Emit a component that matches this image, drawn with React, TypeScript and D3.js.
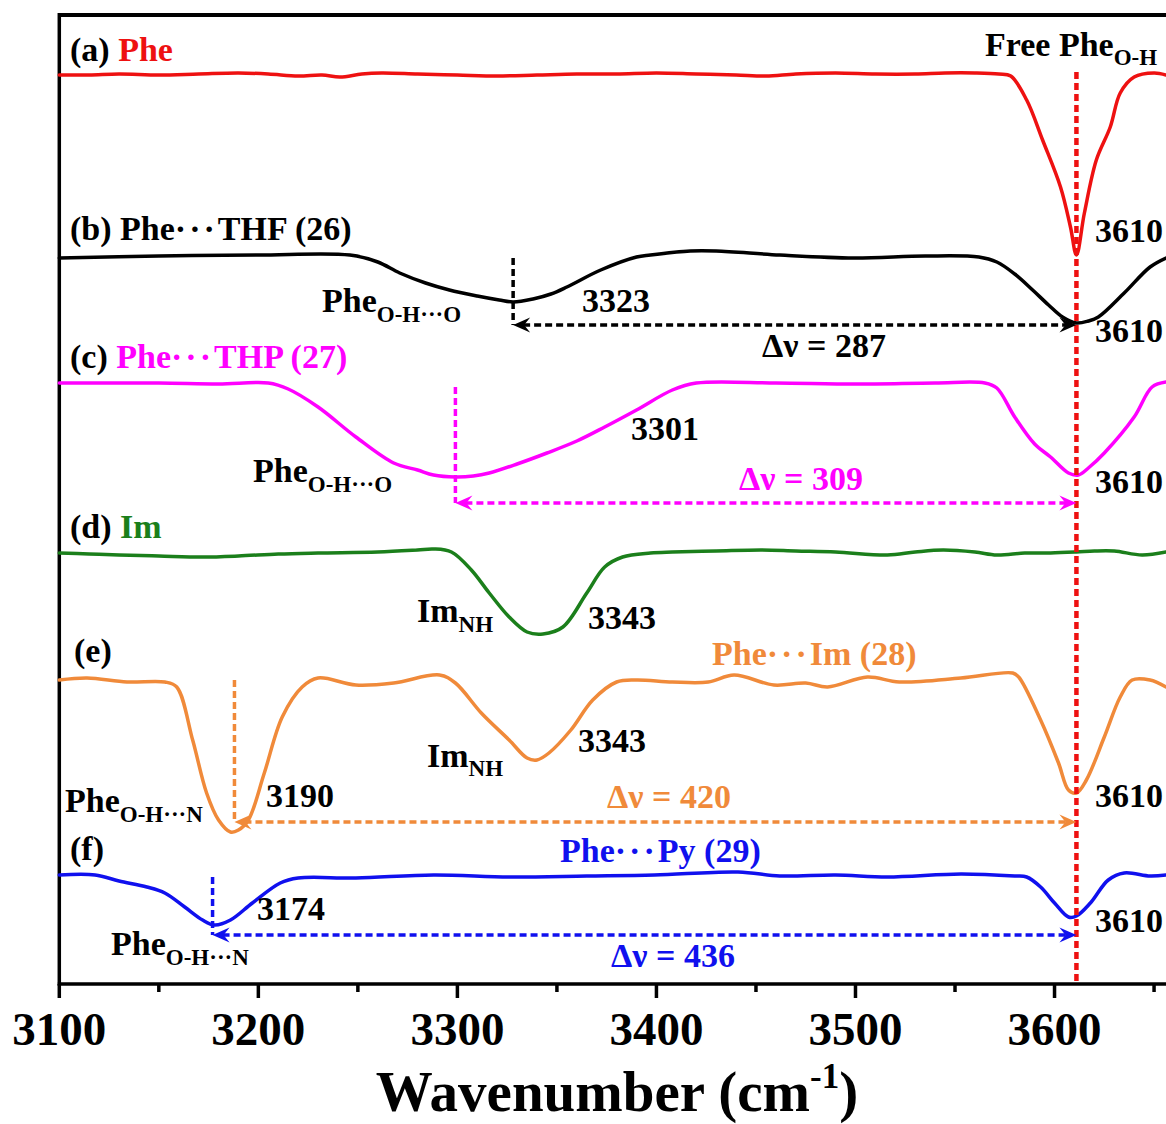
import React from 'react';
import * as d3 from 'd3';

const W = 1166;
const H = 1124;

// [wavenumber cm-1, stacked intensity]
const phe: [number, number][] = [
  [3100, 90.9], [3115, 90.9], [3130, 91.0], [3150, 90.9], [3170, 91.0], [3190, 91.1], [3205, 91.0],
  [3220, 90.8], [3232, 90.9], [3241, 90.7], [3252, 91.0], [3262, 91.1], [3280, 91.0], [3300, 90.9],
  [3320, 90.8], [3340, 90.9], [3360, 91.0], [3380, 91.0], [3400, 91.1], [3420, 91.0], [3440, 90.9],
  [3455, 90.8], [3470, 91.0], [3490, 91.1], [3510, 91.0], [3530, 91.0], [3545, 91.1], [3560, 91.1],
  [3572, 91.0], [3578, 90.8], [3586, 88.4], [3594, 84.4], [3603, 79.7], [3608, 75.7], [3611, 72.9],
  [3615, 77.1], [3621, 82.4], [3628, 85.7], [3633, 89.1], [3640, 90.7], [3650, 91.1], [3656, 90.9],
];
const pheThf: [number, number][] = [
  [3100, 72.6], [3150, 72.8], [3200, 72.9], [3246, 72.9], [3260, 72.2], [3271, 71.1], [3284, 70.1],
  [3296, 69.4], [3310, 68.8], [3321, 68.4], [3328, 68.2], [3338, 68.5], [3347, 69.0], [3355, 69.7],
  [3372, 71.4], [3390, 72.7], [3397, 72.9], [3417, 73.3], [3430, 73.3], [3462, 72.9], [3499, 72.6],
  [3535, 72.8], [3562, 72.7], [3571, 72.2], [3580, 71.0], [3589, 69.4], [3597, 67.9], [3604, 66.7],
  [3611, 66.1], [3617, 66.3], [3622, 66.7], [3635, 69.1], [3648, 71.7], [3656, 72.6],
];
const pheThp: [number, number][] = [
  [3100, 60.1], [3150, 60.1], [3180, 60.0], [3205, 60.1], [3215, 59.5], [3230, 57.7], [3249, 54.7],
  [3268, 52.1], [3280, 51.4], [3288, 50.9], [3299, 50.7], [3308, 50.8], [3316, 51.1], [3330, 52.0],
  [3345, 53.1], [3360, 54.3], [3374, 55.7], [3390, 57.4], [3408, 59.4], [3420, 60.1], [3460, 60.1],
  [3500, 60.0], [3540, 60.1], [3565, 60.1], [3571, 59.6], [3580, 56.7], [3590, 54.0], [3598, 52.7],
  [3607, 51.1], [3612, 50.9], [3617, 51.6], [3625, 53.1], [3640, 56.7], [3649, 59.7], [3656, 60.2],
];
const im: [number, number][] = [
  [3100, 43.1], [3115, 43.0], [3130, 42.9], [3150, 42.8], [3172, 42.7], [3190, 42.8], [3210, 43.0],
  [3230, 43.1], [3260, 43.2], [3280, 43.4], [3288, 43.5], [3297, 43.2], [3307, 41.4], [3316, 39.1],
  [3326, 36.7], [3335, 35.2], [3343, 35.0], [3353, 35.7], [3365, 39.1], [3374, 41.7], [3383, 42.7],
  [3397, 43.1], [3408, 43.2], [3430, 43.3], [3453, 43.4], [3470, 43.3], [3490, 43.2], [3516, 42.9],
  [3530, 43.2], [3544, 43.4], [3560, 43.2], [3571, 42.9], [3585, 43.1], [3598, 43.1], [3611, 43.2],
  [3620, 43.3], [3630, 43.3], [3644, 42.9], [3656, 43.2],
];
const pheIm: [number, number][] = [
  [3100, 30.4], [3114, 30.6], [3134, 30.2], [3153, 30.2], [3159, 29.7], [3167, 24.4], [3174, 19.1],
  [3180, 16.4], [3186, 15.2], [3190, 15.4], [3195, 16.4], [3203, 21.1], [3212, 26.7], [3222, 29.7],
  [3230, 30.6], [3249, 29.9], [3268, 30.1], [3291, 30.9], [3299, 30.1], [3312, 27.1], [3326, 24.4],
  [3335, 22.6], [3340, 22.4], [3346, 23.1], [3357, 25.4], [3368, 28.4], [3380, 30.2], [3390, 30.4],
  [3408, 30.2], [3426, 30.2], [3439, 30.9], [3459, 29.9], [3475, 30.1], [3486, 29.7], [3506, 30.7],
  [3522, 30.2], [3553, 30.6], [3579, 31.1], [3582, 30.7], [3593, 26.4], [3602, 22.1], [3607, 19.4],
  [3611, 19.1], [3616, 20.4], [3625, 24.7], [3633, 28.7], [3639, 30.4], [3648, 30.4], [3656, 29.7],
];
const phePy: [number, number][] = [
  [3100, 10.9], [3118, 10.9], [3130, 10.3], [3144, 9.7], [3153, 9.1], [3163, 7.7], [3172, 6.4],
  [3178, 5.9], [3186, 6.4], [3197, 8.1], [3211, 10.1], [3220, 10.6], [3249, 10.6], [3288, 10.9],
  [3326, 10.7], [3365, 10.8], [3399, 10.9], [3441, 11.2], [3462, 10.8], [3490, 10.9], [3516, 10.7],
  [3553, 11.0], [3580, 10.8], [3586, 10.7], [3593, 9.7], [3600, 8.1], [3607, 6.7], [3611, 6.8],
  [3618, 8.1], [3627, 10.4], [3635, 11.1], [3648, 10.8], [3656, 10.9],
];

const xTicks = [3100, 3200, 3300, 3400, 3500, 3600];
const xMinorTicks = [3150, 3250, 3350, 3450, 3550, 3650];
const freeOH = 3611;

// bonded O-H band: position, top of drop line, level of the shift arrow
const bondedBand = [3328, 3299, 3188, 3177];
const bandTop = [72.6, 59.7, 30.4, 10.7];
const arrowLevel = [65.9, 48.1, 16.2, 4.9];

const RED = '#ee1111';
const MAG = '#ff00ff';
const GRN = '#1b7f1b';
const ORG = '#f08a3a';
const BLU = '#1010ee';

const series = [
  { data: phe, color: RED },
  { data: pheThf, color: '#000' },
  { data: pheThp, color: MAG },
  { data: im, color: GRN },
  { data: pheIm, color: ORG },
  { data: phePy, color: BLU },
];
const shiftColors = ['#000', MAG, ORG, BLU];

const FONT = '"Liberation Serif", "Times New Roman", serif';

const Dots = () => <tspan letterSpacing={3}>···</tspan>;

export default function App() {
  const x = d3.scaleLinear().domain([3100, 3656]).range([59.3, 1166]);
  const y = d3.scaleLinear().domain([0, 96.9]).range([984, 15]);
  const line = d3.line<[number, number]>()
    .x(d => x(d[0]))
    .y(d => y(d[1]))
    .curve(d3.curveCatmullRom.alpha(0.5));

  const arrowHead = (tx: number, ty: number, dir: number) => {
    const L = 17, Wd = 7.5, N = 11;
    return `M${tx},${ty} L${tx - dir * L},${ty - Wd} L${tx - dir * N},${ty} L${tx - dir * L},${ty + Wd} Z`;
  };

  const lbl = { fontFamily: FONT, fontWeight: 'bold' as const, fontSize: 34 };
  const sub = 23;

  return (
    <svg width={W} height={H} style={{ position: 'absolute', left: 0, top: 0, background: '#fff' }}>
      {/* frame */}
      <line x1={x(3100)} x2={W} y1={15} y2={15} stroke="#000" strokeWidth={4} />
      <line x1={x(3100)} x2={x(3100)} y1={13} y2={y(0) + 1.5} stroke="#000" strokeWidth={3.5} />
      <line x1={x(3100) - 1.5} x2={W} y1={y(0)} y2={y(0)} stroke="#000" strokeWidth={3.5} />
      {xTicks.map(t => (
        <g key={t}>
          <line x1={x(t)} x2={x(t)} y1={y(0)} y2={y(0) + 14} stroke="#000" strokeWidth={3.5} />
          <text x={x(t)} y={1045} textAnchor="middle" style={{ ...lbl, fontSize: 47 }}>{t}</text>
        </g>
      ))}
      {xMinorTicks.map(t => (
        <line key={t} x1={x(t)} x2={x(t)} y1={y(0)} y2={y(0) + 8} stroke="#000" strokeWidth={3.5} />
      ))}
      <text x={617} y={1111} textAnchor="middle" style={{ ...lbl, fontSize: 57 }}>
        Wavenumber (cm<tspan fontSize={35} dy={-23}>-1</tspan><tspan dy={23}>)</tspan>
      </text>

      {/* spectra */}
      {series.map((s, i) => (
        <path key={i} d={line(s.data) || ''} fill="none" stroke={s.color} strokeWidth={3.5}
          strokeLinejoin="round" strokeLinecap="round" />
      ))}

      {/* free O-H reference */}
      <line x1={x(freeOH)} x2={x(freeOH)} y1={y(91.2)} y2={y(0)} stroke={RED} strokeWidth={4.5}
        strokeDasharray="7 4" />

      {/* red-shift arrows */}
      {bondedBand.map((b, i) => {
        const c = shiftColors[i];
        const ay = y(arrowLevel[i]);
        return (
          <g key={b}>
            <line x1={x(b)} x2={x(b)} y1={y(bandTop[i])} y2={ay} stroke={c} strokeWidth={3.5} strokeDasharray="7 4" />
            <line x1={x(b) + 10} x2={x(freeOH) - 10} y1={ay} y2={ay} stroke={c} strokeWidth={3.5} strokeDasharray="7 4" />
            <path d={arrowHead(x(b), ay, -1)} fill={c} />
            <path d={arrowHead(x(freeOH), ay, 1)} fill={c} />
          </g>
        );
      })}

      {/* labels */}
      <text x={70} y={61} style={lbl}>(a) <tspan fill={RED}>Phe</tspan></text>
      <text x={985} y={56} style={lbl}>Free Phe<tspan fontSize={sub} dy={9}>O-H</tspan></text>
      <text x={70} y={240} style={lbl}>(b) Phe<Dots />THF (26)</text>
      <text x={322} y={312} style={lbl}>Phe<tspan fontSize={sub} dy={10}>O-H···O</tspan></text>
      <text x={582} y={312} style={lbl}>3323</text>
      <text x={762} y={357} style={lbl}>Δν = 287</text>
      <text x={70} y={368} style={lbl}>(c) <tspan fill={MAG}>Phe<Dots />THP (27)</tspan></text>
      <text x={253} y={482} style={lbl}>Phe<tspan fontSize={sub} dy={10}>O-H···O</tspan></text>
      <text x={631} y={440} style={lbl}>3301</text>
      <text x={739} y={490} style={{ ...lbl, fill: MAG }}>Δν = 309</text>
      <text x={70} y={538} style={lbl}>(d) <tspan fill={GRN}>Im</tspan></text>
      <text x={417} y={622} style={lbl}>Im<tspan fontSize={sub} dy={10}>NH</tspan></text>
      <text x={588} y={629} style={lbl}>3343</text>
      <text x={74} y={662} style={lbl}>(e)</text>
      <text x={712} y={665} style={{ ...lbl, fill: ORG }}>Phe<Dots />Im (28)</text>
      <text x={427} y={767} style={lbl}>Im<tspan fontSize={sub} dy={9}>NH</tspan></text>
      <text x={578} y={752} style={lbl}>3343</text>
      <text x={65} y={812} style={lbl}>Phe<tspan fontSize={sub} dy={10}>O-H···N</tspan></text>
      <text x={266} y={807} style={lbl}>3190</text>
      <text x={607} y={808} style={{ ...lbl, fill: ORG }}>Δν = 420</text>
      <text x={70} y={860} style={lbl}>(f)</text>
      <text x={560} y={862} style={{ ...lbl, fill: BLU }}>Phe<Dots />Py (29)</text>
      <text x={257} y={920} style={lbl}>3174</text>
      <text x={111} y={955} style={lbl}>Phe<tspan fontSize={sub} dy={10}>O-H···N</tspan></text>
      <text x={611} y={967} style={{ ...lbl, fill: BLU }}>Δν = 436</text>
      {[242, 342, 493, 807, 932].map(by => (
        <text key={by} x={1095} y={by} style={lbl}>3610</text>
      ))}
    </svg>
  );
}
